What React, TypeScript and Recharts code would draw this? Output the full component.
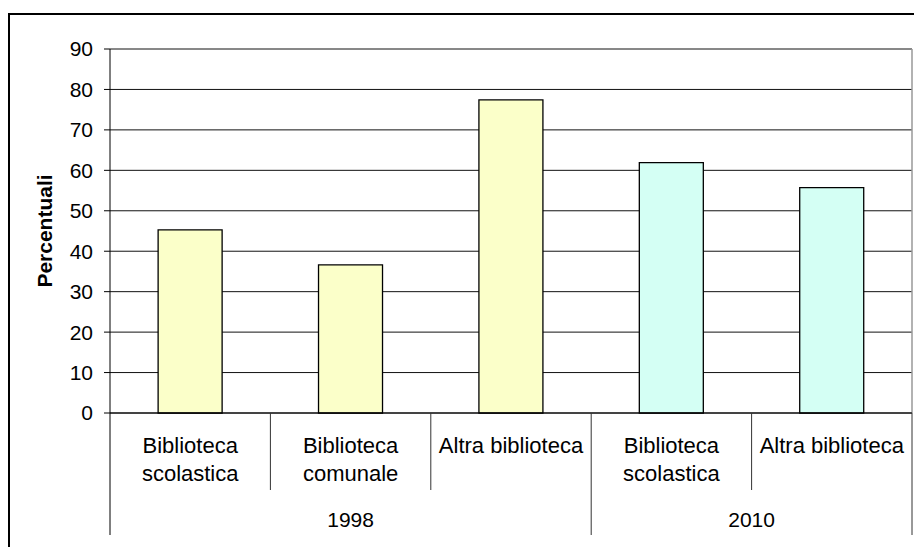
import { BarChart, Bar, XAxis, YAxis, CartesianGrid, Cell } from "recharts";

// percentuali per tipo di biblioteca e anno
const categories = [
  "Biblioteca scolastica",
  "Biblioteca comunale",
  "Altra biblioteca",
  "Biblioteca scolastica",
  "Altra biblioteca",
];
const years = ["1998", "1998", "1998", "2010", "2010"];
const values = [45.3, 36.6, 77.4, 61.9, 55.7];
const yTicks = [0, 10, 20, 30, 40, 50, 60, 70, 80, 90];

const yearColors: Record<string, string> = {
  "1998": "#FBFFC9",
  "2010": "#D4FFF4",
};

const data = categories.map((name, i) => ({ idx: i, name, year: years[i], value: values[i] }));

const FONT = "'Liberation Sans', Arial, sans-serif";

function wrapLabel(label: string): string[] {
  if (label.length <= 16) return [label];
  const words = label.split(" ");
  return [words[0], words.slice(1).join(" ")];
}

const CategoryTick = (props: any) => {
  const { x, y, payload, index } = props;
  const half = payload?.offset ?? 80;
  const x0 = x - half;
  const x1 = x + half;
  const i = index as number;
  const lines = wrapLabel(categories[i]);
  const groupStart = i === 0 || years[i] !== years[i - 1];
  const isLast = i === categories.length - 1;
  const groupCount = years.filter((yr) => yr === years[i]).length;

  return (
    <g>
      <line
        x1={x0}
        x2={x0}
        y1={y}
        y2={groupStart ? y + 122 : y + 77}
        stroke={i === 0 ? "#000" : "#333"}
        strokeWidth={1}
      />
      {isLast && <line x1={x1} x2={x1} y1={y} y2={y + 122} stroke="#333" strokeWidth={1} />}
      {lines.map((ln, k) => (
        <text
          key={k}
          x={x}
          y={y + 40 + k * 28}
          textAnchor="middle"
          fontSize={22}
          fontFamily={FONT}
          fill="#000"
        >
          {ln}
        </text>
      ))}
      {groupStart && (
        <text
          x={x0 + groupCount * half}
          y={y + 114}
          textAnchor="middle"
          fontSize={21}
          fontFamily={FONT}
          fill="#000"
        >
          {years[i]}
        </text>
      )}
    </g>
  );
};

export default function App() {
  return (
    <div
      style={{
        position: "absolute",
        left: 0,
        top: 0,
        width: 914,
        height: 547,
        overflow: "hidden",
        background: "#fff",
        fontFamily: FONT,
      }}
    >
      <div
        style={{
          position: "absolute",
          left: 8,
          top: 13,
          width: 1000,
          height: 1000,
          border: "2px solid #000",
        }}
      />
      <div style={{ position: "absolute", left: 0, top: 0 }}>
        <BarChart
          width={914}
          height={547}
          data={data}
          margin={{ top: 49, right: 2, left: 10, bottom: 0 }}
          barCategoryGap="30%"
        >
          <CartesianGrid horizontal vertical={false} stroke="#111" strokeWidth={1} />
          <CartesianGrid
            horizontal={false}
            vertical
            stroke="#999"
            strokeWidth={1.5}
            verticalCoordinatesGenerator={({ offset }: any) => [offset.left + offset.width]}
          />
          <XAxis
            dataKey="idx"
            type="category"
            height={134}
            interval={0}
            tickLine={false}
            tickSize={0}
            tickMargin={0}
            axisLine={{ stroke: "#000", strokeWidth: 1 }}
            tick={<CategoryTick />}
          />
          <YAxis
            width={100}
            domain={[0, 90]}
            ticks={yTicks}
            interval={0}
            tickSize={6}
            tickMargin={11}
            axisLine={{ stroke: "#000", strokeWidth: 1 }}
            tickLine={{ stroke: "#000", strokeWidth: 1 }}
            tick={{ fill: "#000", fontSize: 21, fontFamily: FONT }}
            label={{
              value: "Percentuali",
              angle: -90,
              position: "insideLeft",
              offset: 35,
              style: { textAnchor: "middle", fontWeight: "bold", fontSize: 21, fontFamily: FONT, fill: "#000" },
            }}
          />
          <Bar dataKey="value" stroke="#000" strokeWidth={1.3} isAnimationActive={false}>
            {data.map((d, i) => (
              <Cell key={i} fill={yearColors[d.year]} />
            ))}
          </Bar>
        </BarChart>
      </div>
    </div>
  );
}
